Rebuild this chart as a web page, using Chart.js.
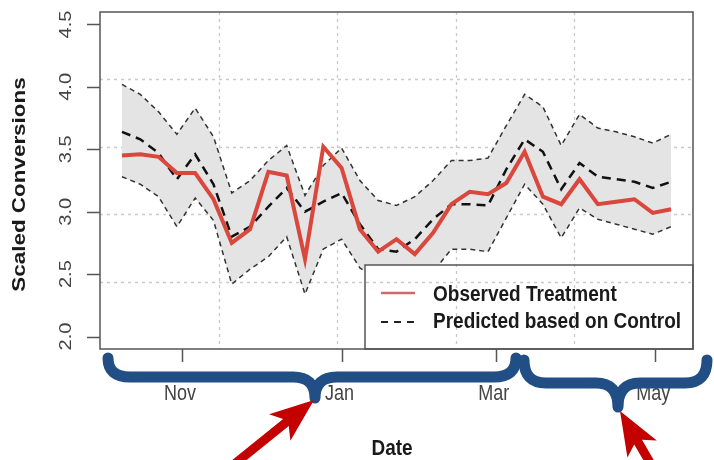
<!DOCTYPE html>
<html>
<head>
<meta charset="utf-8">
<script src="https://cdn.jsdelivr.net/npm/chart.js@4.4.1/dist/chart.umd.min.js"></script>
<style>
  html, body { margin: 0; padding: 0; background: #fff; }
  canvas { display: block; }
</style>
</head>
<body>
<canvas id="chart" width="714" height="460"></canvas>
<script>
// weekly dates of the series
const dates = [
  "2012-10-09", "2012-10-16", "2012-10-23", "2012-10-30", "2012-11-06", "2012-11-13",
  "2012-11-20", "2012-11-27", "2012-12-04", "2012-12-11", "2012-12-18", "2012-12-25",
  "2013-01-01", "2013-01-08", "2013-01-15", "2013-01-22", "2013-01-29", "2013-02-05",
  "2013-02-12", "2013-02-19", "2013-02-26", "2013-03-05", "2013-03-12", "2013-03-19",
  "2013-03-26", "2013-04-02", "2013-04-09", "2013-04-16", "2013-04-23", "2013-04-30",
  "2013-05-07"
];
const observed = [3.45, 3.46, 3.44, 3.31, 3.31, 3.10, 2.75, 2.86, 3.32, 3.29, 2.62, 3.52, 3.35, 2.86, 2.68, 2.78,
  2.66, 2.83, 3.06, 3.16, 3.14, 3.23, 3.48, 3.12, 3.06, 3.26, 3.06, 3.08, 3.10, 2.99, 3.02];
const predicted = [3.64, 3.58, 3.47, 3.26, 3.46, 3.22, 2.80, 2.88, 3.04, 3.19, 3.00, 3.08, 3.15, 2.90, 2.70, 2.68,
  2.78, 2.94, 3.06, 3.06, 3.05, 3.34, 3.58, 3.48, 3.18, 3.39, 3.28, 3.26, 3.24, 3.19, 3.24];
const upper = [4.02, 3.94, 3.80, 3.62, 3.83, 3.60, 3.15, 3.25, 3.41, 3.53, 3.13, 3.37, 3.51, 3.25, 3.09, 3.05,
  3.12, 3.25, 3.41, 3.41, 3.43, 3.69, 3.94, 3.84, 3.53, 3.78, 3.67, 3.64, 3.60, 3.55, 3.62];
const lower = [3.28, 3.22, 3.12, 2.88, 3.11, 2.93, 2.42, 2.54, 2.64, 2.80, 2.34, 2.70, 2.78, 2.55, 2.45, 2.40,
  2.38, 2.52, 2.70, 2.70, 2.68, 2.95, 3.22, 3.06, 2.79, 3.03, 2.94, 2.90, 2.86, 2.82, 2.88];

const xTickDates = ["2012-11-01", "2013-01-01", "2013-03-01", "2013-05-01"];
const xTickLabels = ["Nov", "Jan", "Mar", "May"];
const yTicks = [2.0, 2.5, 3.0, 3.5, 4.0, 4.5];
const legendLabels = ["Observed Treatment", "Predicted based on Control"];

const DAY = 86400000;
const toDay = (s) => Date.parse(s + "T00:00:00Z") / DAY;
const days = dates.map(toDay);
const pts = (arr) => arr.map((v, i) => ({ x: days[i], y: v }));

// R style axis: 4% extension on each side
const xPad = (days[days.length - 1] - days[0]) * 0.04;
const xMin = days[0] - xPad, xMax = days[days.length - 1] + xPad;

const STRETCH = 1.18;
const SANS = '"Liberation Sans", Arial, sans-serif';

function drawText(ctx, str, x, y, font, color, rotated) {
  ctx.save();
  ctx.translate(x, y);
  if (rotated) {
    ctx.rotate(-Math.PI / 2);
    ctx.scale(STRETCH, 1);
  } else {
    ctx.scale(1, STRETCH);
  }
  ctx.font = font;
  ctx.fillStyle = color;
  ctx.textAlign = arguments[7] || "center";
  ctx.textBaseline = "middle";
  ctx.fillText(str, 0, 0);
  ctx.restore();
}

function drawGrid(chart) {
  const ctx = chart.ctx, a = chart.chartArea;
  const gx = chart.scales.gx, gy = chart.scales.gy;
  ctx.save();
  ctx.strokeStyle = "#c9c9c9";
  ctx.lineWidth = 1.3;
  ctx.setLineDash([3, 4]);
  [1, 2, 3, 4].forEach((v) => {
    const px = Math.round(gx.getPixelForValue(v)) + 0.5;
    ctx.beginPath(); ctx.moveTo(px, a.top); ctx.lineTo(px, a.bottom); ctx.stroke();
    const py = Math.round(gy.getPixelForValue(v)) + 0.5;
    ctx.beginPath(); ctx.moveTo(a.left, py); ctx.lineTo(a.right, py); ctx.stroke();
  });
  ctx.restore();
}

function brace(ctx, x1, x2, xc, yTop, yMid, yTip) {
  const r = 22;
  ctx.beginPath();
  ctx.moveTo(x1, yTop);
  ctx.quadraticCurveTo(x1, yMid, x1 + r, yMid);
  ctx.lineTo(xc - r, yMid);
  ctx.quadraticCurveTo(xc, yMid, xc, yTip);
  ctx.quadraticCurveTo(xc, yMid, xc + r, yMid);
  ctx.lineTo(x2 - r, yMid);
  ctx.quadraticCurveTo(x2, yMid, x2, yTop);
  ctx.stroke();
}

function arrow(ctx, tx, ty, hx, hy) {
  const ang = Math.atan2(hy - ty, hx - tx);
  const headLen = 44, headW = 17, shaftW = 4.5;
  const bx = hx - Math.cos(ang) * headLen, by = hy - Math.sin(ang) * headLen;
  const nx = -Math.sin(ang), ny = Math.cos(ang);
  ctx.beginPath();
  ctx.moveTo(tx + nx * shaftW, ty + ny * shaftW);
  ctx.lineTo(bx + nx * shaftW + Math.cos(ang) * 8, by + ny * shaftW + Math.sin(ang) * 8);
  ctx.lineTo(bx + nx * headW, by + ny * headW);
  ctx.lineTo(hx, hy);
  ctx.lineTo(bx - nx * headW, by - ny * headW);
  ctx.lineTo(bx - nx * shaftW + Math.cos(ang) * 8, by - ny * shaftW + Math.sin(ang) * 8);
  ctx.lineTo(tx - nx * shaftW, ty - ny * shaftW);
  ctx.closePath();
  ctx.fill();
}

const overlay = {
  id: "overlay",
  beforeDatasetsDraw(chart) {
    drawGrid(chart);
  },
  afterDatasetsDraw(chart) {
    const ctx = chart.ctx, a = chart.chartArea;
    const xs = chart.scales.x, ys = chart.scales.y;

    // legend box
    const lx = 365, ly = 265;
    ctx.save();
    ctx.fillStyle = "#fff";
    ctx.fillRect(lx, ly, a.right - lx, a.bottom - ly);
    ctx.beginPath(); ctx.rect(lx, ly, a.right - lx, a.bottom - ly); ctx.clip();
    drawGrid(chart);
    ctx.restore();
    ctx.save();
    ctx.strokeStyle = "#555";
    ctx.lineWidth = 1.5;
    ctx.strokeRect(lx, ly, a.right - lx, a.bottom - ly);
    ctx.strokeStyle = "#cf6a68";
    ctx.lineWidth = 2.5;
    ctx.beginPath(); ctx.moveTo(381, 293); ctx.lineTo(415, 293); ctx.stroke();
    ctx.strokeStyle = "#222";
    ctx.lineWidth = 2;
    ctx.setLineDash([7, 6]);
    ctx.beginPath(); ctx.moveTo(381, 322); ctx.lineTo(415, 322); ctx.stroke();
    ctx.restore();
    drawText(ctx, legendLabels[0], 433, 295, "bold 19px " + SANS, "#1a1a1a", false, "left");
    drawText(ctx, legendLabels[1], 433, 322, "bold 19px " + SANS, "#1a1a1a", false, "left");

    // plot box and ticks
    ctx.save();
    ctx.strokeStyle = "#555";
    ctx.lineWidth = 1.5;
    ctx.strokeRect(a.left, a.top, a.right - a.left, a.bottom - a.top);
    ctx.beginPath();
    yTicks.forEach((v) => {
      const py = Math.round(ys.getPixelForValue(v)) + 0.5;
      ctx.moveTo(a.left - 13, py); ctx.lineTo(a.left, py);
    });
    xTickDates.forEach((d) => {
      const px = Math.round(xs.getPixelForValue(toDay(d))) + 0.5;
      ctx.moveTo(px, a.bottom); ctx.lineTo(px, a.bottom + 13);
    });
    ctx.stroke();
    ctx.restore();

    yTicks.forEach((v) => {
      drawText(ctx, v.toFixed(1), 66, ys.getPixelForValue(v), "17px " + SANS, "#444", true);
    });
    xTickDates.forEach((d, i) => {
      drawText(ctx, xTickLabels[i], xs.getPixelForValue(toDay(d)) - 2, 394, "18px " + SANS, "#444", false);
    });
    drawText(ctx, "Scaled Conversions", 20, (a.top + a.bottom) / 2 + 4, "bold 19px " + SANS, "#1a1a1a", true);
    drawText(ctx, "Date", 392, 449, "bold 19px " + SANS, "#1a1a1a", false);

    // annotations: braces and arrows
    ctx.save();
    ctx.strokeStyle = "#214f85";
    ctx.lineWidth = 11;
    ctx.lineCap = "round";
    ctx.lineJoin = "round";
    brace(ctx, 108, 516, 315, 358, 377, 398);
    brace(ctx, 524, 707, 618, 360, 383, 407);
    ctx.fillStyle = "#c40000";
    arrow(ctx, 232, 466, 314, 400);
    arrow(ctx, 652, 466, 620, 411);
    ctx.restore();
  }
};

new Chart(document.getElementById("chart"), {
  type: "line",
  data: {
    datasets: [
      {
        label: legendLabels[0],
        data: pts(observed),
        borderColor: "#d9473d",
        borderWidth: 4,
        pointRadius: 0,
        fill: false
      },
      {
        label: legendLabels[1],
        data: pts(predicted),
        borderColor: "#111",
        borderWidth: 2.5,
        borderDash: [9, 6],
        pointRadius: 0,
        fill: false
      },
      {
        label: "lower",
        data: pts(lower),
        borderColor: "#333",
        borderWidth: 1.5,
        borderDash: [5, 4],
        pointRadius: 0,
        fill: false
      },
      {
        label: "upper",
        data: pts(upper),
        borderColor: "#333",
        borderWidth: 1.5,
        borderDash: [5, 4],
        pointRadius: 0,
        backgroundColor: "#e4e4e4",
        fill: 2
      }
    ]
  },
  options: {
    responsive: false,
    animation: false,
    events: [],
    layout: { padding: { left: 100, top: 12, right: 21, bottom: 111 } },
    plugins: { legend: { display: false }, tooltip: { enabled: false } },
    scales: {
      x: { type: "linear", min: xMin, max: xMax, display: false },
      y: { type: "linear", min: 1.9, max: 4.6, display: false },
      gx: { type: "linear", axis: "x", min: 0, max: 5, display: false },
      gy: { type: "linear", axis: "y", min: 0, max: 5, display: false }
    }
  },
  plugins: [overlay]
});
</script>
</body>
</html>
